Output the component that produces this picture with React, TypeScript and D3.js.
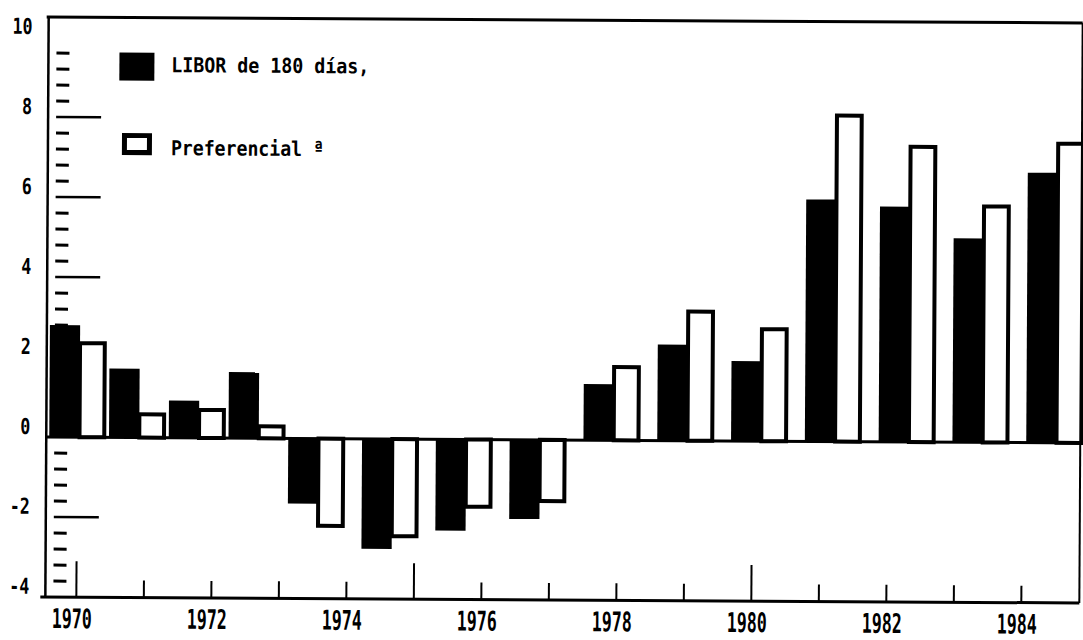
import React from "react";
import * as d3 from "d3";

// ---- data ----
const YEARS = [1970, 1971, 1972, 1973, 1974, 1975, 1976, 1977, 1978, 1979, 1980, 1981, 1982, 1983, 1984];
const LIBOR = [2.8, 1.72, 0.93, 1.65, -1.63, -2.75, -2.28, -1.98, 1.4, 2.4, 2.0, 6.05, 5.88, 5.1, 6.75];
const PREF = [2.35, 0.58, 0.7, 0.3, -2.18, -2.43, -1.68, -1.53, 1.83, 3.23, 2.8, 8.15, 7.38, 5.9, 7.48];
const Y_LABELS = [-4, -2, 0, 2, 4, 6, 8, 10];
const Y_LONG_TICKS = [-2, 2, 4, 6, 8];
const X_LABELS = [1970, 1972, 1974, 1976, 1978, 1980, 1982, 1984];
const LEGEND_LIBOR = "LIBOR de 180 días,";
const LEGEND_PREF = "Preferencial ª";

const W = 1083;
const H = 640;
const FONT = "'DejaVu Sans Mono', 'Liberation Mono', monospace";

export default function App() {
  const y = d3.scaleLinear().domain([-4, 10.5]).range([600, 20]);
  const xTick = d3.scaleLinear().domain([1970, 1984]).range([78, 1023]);
  // hand-drawn original: bar pairs drift against the tick grid
  const xBar = d3.scaleLinear().domain([1970, 1974, 1984]).range([50, 289, 1027]);
  const pairW = 55;
  const blackW = pairW * 0.55;
  const whiteW = pairW - blackW;

  const axisX = 47;
  const rightX = 1081;

  const minor: number[] = d3
    .range(0, 35)
    .filter((k) => k % 5 !== 0)
    .map((k) => -4 + 0.4 * k);

  const rect = (x: number, v: number, w: number) => {
    const y0 = y(0);
    const y1 = y(v);
    return { x, y: Math.min(y0, y1), w, h: Math.abs(y1 - y0) };
  };

  return (
    <svg
      width={W}
      height={H}
      style={{ position: "fixed", left: 0, top: 0, background: "#fff" }}
    >
      <rect x={0} y={0} width={W} height={H} fill="#fff" />
      <g transform="rotate(0.33 563 310)">
        {/* frame */}
        <line x1={45} x2={rightX} y1={y(10.5)} y2={y(10.5)} stroke="#000" strokeWidth={3} />
        <line x1={axisX} x2={axisX} y1={y(10.5)} y2={y(-4)} stroke="#000" strokeWidth={2.5} />
        <line x1={rightX} x2={rightX} y1={y(10.5)} y2={y(-4)} stroke="#000" strokeWidth={2} />
        <line x1={42} x2={rightX} y1={y(-4)} y2={y(-4)} stroke="#000" strokeWidth={3} />

        {/* y minor ticks */}
        {minor.map((v, i) => (
          <line key={"mn" + i} x1={55} x2={68} y1={y(v)} y2={y(v)} stroke="#000" strokeWidth={3} />
        ))}
        {Y_LONG_TICKS.map((v) => (
          <line key={"lt" + v} x1={55} x2={100} y1={y(v)} y2={y(v)} stroke="#000" strokeWidth={2.5} />
        ))}

        {/* y labels */}
        {Y_LABELS.map((v) => {
          const s = String(v);
          return (
            <text
              key={"yl" + v}
              x={31}
              y={y(v) - 11 + 8}
              textAnchor="end"
              fontFamily={FONT}
              fontWeight="bold"
              fontSize={22}
              textLength={s.length * 10}
              lengthAdjust="spacingAndGlyphs"
              fill="#000"
            >
              {s}
            </text>
          );
        })}

        {/* x ticks */}
        {YEARS.map((yr) => (
          <line
            key={"xt" + yr}
            x1={xTick(yr)}
            x2={xTick(yr)}
            y1={y(-4)}
            y2={y(-4) - ((yr - 1970) % 5 === 0 ? 36 : 17)}
            stroke="#000"
            strokeWidth={2}
          />
        ))}
        {X_LABELS.map((yr) => (
          <text
            key={"xl" + yr}
            x={xTick(yr) - 4.5}
            y={631}
            textAnchor="middle"
            fontFamily={FONT}
            fontWeight="bold"
            fontSize={27}
            textLength={40}
            lengthAdjust="spacingAndGlyphs"
            fill="#000"
          >
            {yr}
          </text>
        ))}

        {/* bars */}
        {YEARS.map((yr, i) => {
          const r = rect(xBar(yr), LIBOR[i], blackW);
          return <rect key={"b" + yr} x={r.x} y={r.y} width={r.w} height={r.h} fill="#000" />;
        })}
        {YEARS.map((yr, i) => {
          const r = rect(xBar(yr) + blackW, PREF[i], whiteW);
          return (
            <rect
              key={"w" + yr}
              x={r.x}
              y={r.y}
              width={r.w}
              height={r.h}
              fill="#fff"
              stroke="#000"
              strokeWidth={4}
            />
          );
        })}

        {/* zero baseline */}
        <line x1={axisX} x2={rightX} y1={y(0)} y2={y(0)} stroke="#000" strokeWidth={3} />

        {/* legend */}
        <rect x={118} y={55} width={35} height={28} fill="#000" />
        <text
          x={170}
          y={74.5}
          fontFamily={FONT}
          fontWeight="bold"
          fontSize={20.5}
          textLength={198}
          lengthAdjust="spacingAndGlyphs"
          fill="#000"
        >
          {LEGEND_LIBOR}
        </text>
        <rect x={123.5} y={138} width={25} height={17} fill="#fff" stroke="#000" strokeWidth={5} />
        <text
          x={170}
          y={157.5}
          fontFamily={FONT}
          fontWeight="bold"
          fontSize={20.5}
          textLength={153}
          lengthAdjust="spacingAndGlyphs"
          fill="#000"
        >
          {LEGEND_PREF}
        </text>
      </g>
    </svg>
  );
}
